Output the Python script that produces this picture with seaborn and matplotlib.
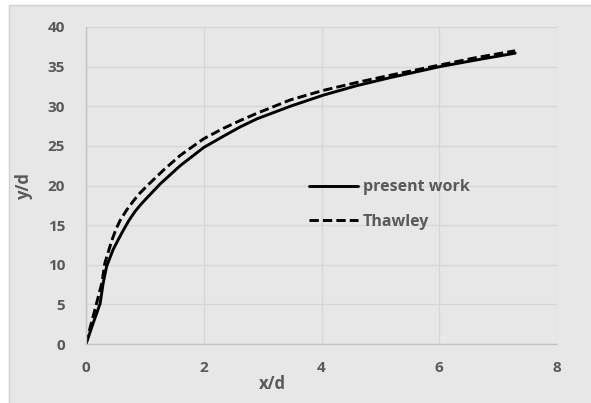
import matplotlib
matplotlib.use("Agg")
import matplotlib.pyplot as plt
from matplotlib.patches import Rectangle
import seaborn as sns
import pandas as pd

# ---- data ----
present_x = [0, 0.12, 0.24, 0.29, 0.35, 0.46, 0.55, 0.63, 0.73, 0.83, 0.93, 1.03,
             1.26, 1.6, 2.0, 2.33, 2.62, 2.9, 3.47, 4.03, 4.6, 5.16, 6.01, 6.6, 7.29]
present_y = [0, 2.6, 5.1, 7.6, 9.8, 11.9, 13.2, 14.3, 15.6, 16.7, 17.6, 18.4,
             20.2, 22.5, 24.8, 26.2, 27.4, 28.4, 30.0, 31.4, 32.6, 33.6, 35.0, 35.8, 36.7]
thawley_x = [0, 0.05, 0.15, 0.27, 0.32, 0.44, 0.51, 0.58, 0.69, 0.8, 0.91, 1.03,
             1.31, 1.6, 2.0, 2.33, 2.62, 2.9, 3.47, 4.03, 4.6, 5.16, 6.01, 6.6, 7.29]
thawley_y = [0, 1.5, 4.3, 7.7, 10.2, 13.1, 14.5, 15.6, 16.9, 18.0, 19.0, 19.9,
             21.9, 23.8, 25.9, 27.2, 28.2, 29.1, 30.8, 32.0, 33.0, 33.9, 35.2, 36.1, 37.0]
series_names = ["present work", "Thawley"]
x_ticks = [0, 2, 4, 6, 8]
y_ticks = [0, 5, 10, 15, 20, 25, 30, 35, 40]
x_label = "x/d"
y_label = "y/d"

df = pd.concat([
    pd.DataFrame({"x": present_x, "y": present_y, "series": series_names[0]}),
    pd.DataFrame({"x": thawley_x, "y": thawley_y, "series": series_names[1]}),
], ignore_index=True)

sns.set_theme(style="white")
plt.rcParams["font.family"] = ["Open Sans", "DejaVu Sans"]
plt.rcParams["font.weight"] = "bold"

TXT = "#595959"
BG = "#e7e7e7"
GRID = "#d6d6d6"

W, H = 591, 403
fig = plt.figure(figsize=(W / 100, H / 100), dpi=100, facecolor="white")
# chart area background with thin border
bgrect = Rectangle((9 / W, -0.01), 1.0, (H - 5) / H + 0.01,
                   transform=fig.transFigure, facecolor=BG,
                   edgecolor="#d0d0d0", linewidth=1.0, zorder=-10)
fig.patches.append(bgrect)

ax = fig.add_axes([86 / W, 1 - 344 / H, (557 - 86) / W, (344 - 27) / H])
ax.set_zorder(5)
ax.set_facecolor(BG)
ax.patch.set_alpha(0)

sns.lineplot(data=df, x="x", y="y", hue="series", style="series",
             palette={series_names[0]: "black", series_names[1]: "black"},
             dashes={series_names[0]: "", series_names[1]: (3.2, 1.4)},
             sort=False, estimator=None, linewidth=2.1, ax=ax, legend=True)
for ln in ax.lines:
    ln.set_solid_joinstyle("round")
    ln.set_dash_joinstyle("round")

ax.set_xlim(0, 8)
ax.set_ylim(0, 40)
ax.set_xticks(x_ticks)
ax.set_yticks(y_ticks)
ax.grid(True, color=GRID, linewidth=0.9)
ax.set_axisbelow(True)
for s in ["top", "right"]:
    ax.spines[s].set_visible(False)
for s in ["left", "bottom"]:
    ax.spines[s].set_color("#c4c4c4")
    ax.spines[s].set_linewidth(1.0)
ax.tick_params(axis="both", length=0, labelsize=11, labelcolor=TXT)
ax.tick_params(axis="x", pad=12)
ax.tick_params(axis="y", pad=15)
for lab in ax.get_xticklabels() + ax.get_yticklabels():
    lab.set_fontweight("bold")

ax.set_xlabel(x_label, fontsize=12, fontweight="bold", color=TXT)
ax.set_ylabel(y_label, fontsize=12, fontweight="bold", color=TXT)
ax.xaxis.set_label_coords((272 - 86) / 471, (344 - 375) / 317)
ax.yaxis.set_label_coords((33 - 86) / 471, 0.5)

leg = ax.legend(title=None, loc="center left",
                bbox_to_anchor=((309 - 86) / 471, (344 - 204.5) / 317),
                frameon=False, fontsize=11.5, handlelength=3.05,
                handletextpad=0.3, labelspacing=1.15, borderpad=0,
                borderaxespad=0)
for t in leg.get_texts():
    t.set_color(TXT)
    t.set_fontweight("bold")

fig.savefig("out.png", dpi=100, facecolor="white")
